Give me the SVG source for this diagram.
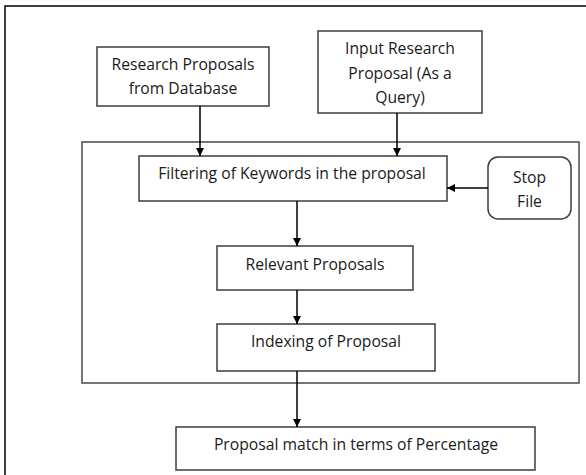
<svg xmlns="http://www.w3.org/2000/svg" width="586" height="475" viewBox="0 0 586 475">
<defs>
<marker id="ah" viewBox="0 0 10 10" refX="10" refY="5" markerWidth="8" markerHeight="8" markerUnits="userSpaceOnUse" orient="auto">
<path d="M0,0 L10,5 L0,10 Z" fill="#000"/>
</marker>
<style>
.box{fill:#fff;stroke:#3c3c3c;stroke-width:1.5}
.frame{fill:none;stroke:#000;stroke-width:1.5}
.cont{fill:none;stroke:#4a4a4a;stroke-width:1.5}
.t{font-family:"Open Sans","Liberation Sans",sans-serif;font-size:15.7px;fill:#1a1a1a;text-anchor:middle}
.c{fill:none;stroke:#000;stroke-width:1.5;marker-end:url(#ah)}
</style>
</defs>
<rect width="586" height="475" fill="#fff"/>
<path class="frame" d="M5,475 V6 H586"/>
<g id="container"><rect class="cont" x="82" y="142" width="497" height="241"/></g>
<g id="research"><rect class="box" x="97" y="47" width="172" height="59"/>
<text class="t" x="183" y="70">Research Proposals</text><text class="t" x="183" y="94">from Database</text></g>
<g id="input"><rect class="box" x="318" y="31" width="164" height="82"/>
<text class="t" x="400" y="54">Input Research</text><text class="t" x="400" y="79">Proposal (As a</text><text class="t" x="400" y="103">Query)</text></g>
<g id="filtering"><rect class="box" x="139" y="156" width="308" height="45"/>
<text class="t" x="292" y="179">Filtering of Keywords in the proposal</text></g>
<g id="stop"><rect class="box" x="488" y="157" width="83" height="62" rx="10"/>
<text class="t" x="529.5" y="183">Stop</text><text class="t" x="529.5" y="207">File</text></g>
<g id="relevant"><rect class="box" x="217" y="246" width="196" height="44"/>
<text class="t" x="315" y="270">Relevant Proposals</text></g>
<g id="indexing"><rect class="box" x="217" y="324" width="218" height="47"/>
<text class="t" x="326" y="347">Indexing of Proposal</text></g>
<g id="match"><rect class="box" x="176" y="427" width="359" height="43"/>
<text class="t" x="356" y="450">Proposal match in terms of Percentage</text></g>
<g id="connectors">
<path class="c" d="M200,106 V156"/>
<path class="c" d="M397,113 V156"/>
<path class="c" d="M488,188 H447"/>
<path class="c" d="M297,201 V246"/>
<path class="c" d="M297,290 V324"/>
<path class="c" d="M297,371 V427"/>
</g>
</svg>
